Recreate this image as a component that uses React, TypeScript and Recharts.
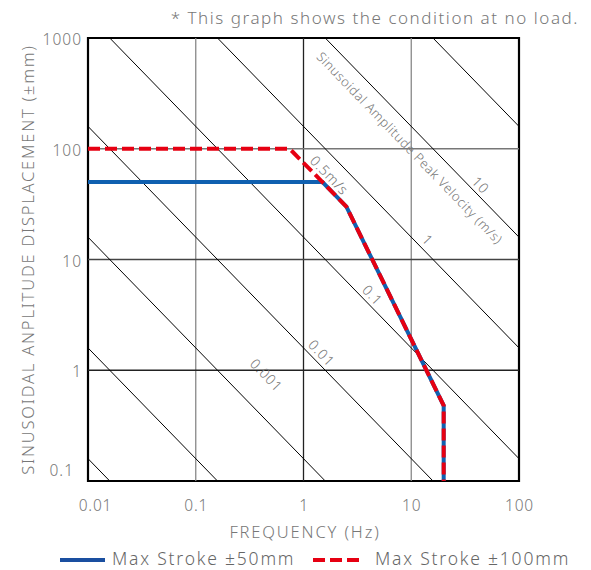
import React from 'react';
import { LineChart, Line, XAxis, YAxis, ReferenceLine, ReferenceArea, ReferenceDot } from 'recharts';

const FREQ_TICKS = [0.01, 0.1, 1, 10, 100];
const AMP_TICKS = [0.1, 1, 10, 100, 1000];
const VELOCITY_LINES = [0.00001, 0.0001, 0.001, 0.01, 0.1, 1, 10, 100];

const STROKE50_FREQ = [0.01, 1.5, 2.5, 20, 20];
const STROKE50_AMP = [50, 50, 30, 0.48, 0.1];
const STROKE100_FREQ = [0.01, 0.74, 0.8, 1.5, 2.5, 20, 20];
const STROKE100_AMP = [100, 100, 93, 50, 30, 0.48, 0.1];

const VEL_LABEL_TEXT = ['0.001', '0.01', '0.1', '0.5m/s', '1', '10', 'Sinusoidal Amplitude Peak Velocity (m/s)'];
const VEL_LABEL_FREQ = [0.456, 1.48, 4.4, 1.75, 14.3, 44.3, 9.7];
const VEL_LABEL_AMP = [0.91, 1.44, 4.8, 58, 15.1, 47.3, 102];

const SERIES_NAMES = ['Max Stroke ±50mm', 'Max Stroke ±100mm'];
const TITLE = '* This graph shows the condition at no load.';
const X_LABEL = 'FREQUENCY (Hz)';
const Y_LABEL = 'SINUSOIDAL ANPLITUDE DISPLACEMENT (±mm)';

const FONT = '"Noto Sans", "Open Sans", sans-serif';
const WEIGHT = 300;
const TEXT_GRAY = '#777';
const BLUE = '#1060b0';
const RED = '#e60012';

const stroke50 = STROKE50_FREQ.map((f, i) => ({ f, a: STROKE50_AMP[i] }));
const stroke100 = STROKE100_FREQ.map((f, i) => ({ f, a: STROKE100_AMP[i] }));

// constant peak-velocity guide line: A[mm] = v[m/s]*1000 / (2*pi*f)
const velSegment = (v: number) => [
  { x: FREQ_TICKS[0], y: (v * 1000) / (2 * Math.PI * FREQ_TICKS[0]) },
  { x: FREQ_TICKS[FREQ_TICKS.length - 1], y: (v * 1000) / (2 * Math.PI * FREQ_TICKS[FREQ_TICKS.length - 1]) },
];

const V_GRID_COLORS: Record<number, string> = { 0.1: '#888', 1: '#222', 10: '#888' };
const H_GRID_COLORS: Record<number, string> = { 1: '#222', 10: '#444', 100: '#777' };

const XTick = (props: any) => {
  const { x, y, payload, index } = props;
  const dx = index === 0 ? 7 : 0;
  return (
    <text x={x + dx + 0.5} y={y + 24} textAnchor="middle" dominantBaseline="central" fill={TEXT_GRAY} fontSize={15.5} fontWeight={WEIGHT} letterSpacing={0.8} fontFamily={FONT}>
      {String(payload.value)}
    </text>
  );
};

const YTick = (props: any) => {
  const { x, y, payload, index } = props;
  const first = index === 0;
  return (
    <text x={x - (first ? 14 : 6)} y={y + (first ? -11 : 1)} textAnchor="end" dominantBaseline="central" fill={TEXT_GRAY} fontSize={15.5} fontWeight={WEIGHT} letterSpacing={1} fontFamily={FONT}>
      {String(payload.value)}
    </text>
  );
};

const rotText = (txt: string, size: number, ls: number) => (p: any) => (
  <text
    x={p.cx}
    y={p.cy}
    transform={`rotate(46 ${p.cx} ${p.cy})`}
    textAnchor="middle"
    dominantBaseline="central"
    fill={TEXT_GRAY}
    fontSize={size}
    fontWeight={WEIGHT}
    letterSpacing={ls}
    fontFamily={FONT}
  >
    {txt}
  </text>
);

export default function App() {
  return (
    <div style={{ position: 'absolute', left: 0, top: 0, width: 591, height: 570, background: '#fff', overflow: 'hidden' }}>
      <div
        style={{
          position: 'absolute', left: 0, top: 6, width: 579, textAlign: 'right',
          fontFamily: FONT, fontWeight: WEIGHT, fontSize: 17, letterSpacing: 1.55, lineHeight: '24px', color: TEXT_GRAY, whiteSpace: 'nowrap',
        }}
      >
        {TITLE}
      </div>
      <LineChart width={591} height={570} margin={{ top: 38, right: 72, bottom: 0, left: 0 }}>
        <XAxis
          type="number"
          dataKey="f"
          scale="log"
          domain={[0.01, 100]}
          ticks={FREQ_TICKS}
          interval={0}
          allowDataOverflow
          height={89}
          axisLine={false}
          tickLine={false}
          tickSize={0}
          tickMargin={0}
          tick={<XTick />}
          label={(p: any) => {
            const vb = p.viewBox;
            return (
              <text x={vb.x + vb.width / 2 + 1.5} y={531} textAnchor="middle" dominantBaseline="central" fill={TEXT_GRAY} fontSize={16.5} fontWeight={WEIGHT} letterSpacing={1.85} fontFamily={FONT}>
                {X_LABEL}
              </text>
            );
          }}
        />
        <YAxis
          type="number"
          dataKey="a"
          scale="log"
          domain={[0.1, 1000]}
          ticks={AMP_TICKS}
          interval={0}
          allowDataOverflow
          width={88}
          axisLine={false}
          tickLine={false}
          tickSize={0}
          tickMargin={0}
          tick={<YTick />}
          label={(p: any) => {
            const vb = p.viewBox;
            const cy = vb.y + vb.height / 2;
            return (
              <text x={27} y={cy} transform={`rotate(-90 27 ${cy})`} textAnchor="middle" dominantBaseline="central" fill={TEXT_GRAY} fontSize={16.5} fontWeight={WEIGHT} letterSpacing={1.8} fontFamily={FONT}>
                {Y_LABEL}
              </text>
            );
          }}
        />
        {FREQ_TICKS.slice(1, -1).map((f) => (
          <ReferenceLine key={'vx' + f} x={f} stroke={V_GRID_COLORS[f]} strokeWidth={1.3} />
        ))}
        {AMP_TICKS.slice(1, -1).map((a) => (
          <ReferenceLine key={'hy' + a} y={a} stroke={H_GRID_COLORS[a]} strokeWidth={1.3} />
        ))}
        {VELOCITY_LINES.map((v) => (
          <ReferenceLine key={'v' + v} segment={velSegment(v)} stroke="#000" strokeWidth={1} ifOverflow="hidden" />
        ))}
        <ReferenceArea x1={0.01} x2={100} y1={0.1} y2={1000} fill="none" fillOpacity={0} stroke="#000" strokeWidth={2.2} />
        <Line
          data={stroke50}
          dataKey="a"
          name={SERIES_NAMES[0]}
          type="linear"
          stroke={BLUE}
          strokeWidth={4}
          dot={false}
          activeDot={false}
          isAnimationActive={false}
        />
        <Line
          data={stroke100}
          dataKey="a"
          name={SERIES_NAMES[1]}
          type="linear"
          stroke={RED}
          strokeWidth={4}
          strokeDasharray="12 5"
          dot={false}
          activeDot={false}
          isAnimationActive={false}
        />
        {VEL_LABEL_TEXT.map((t, i) => (
          <ReferenceDot
            key={'lbl' + i}
            x={VEL_LABEL_FREQ[i]}
            y={VEL_LABEL_AMP[i]}
            r={0}
            ifOverflow="visible"
            shape={rotText(t, i === VEL_LABEL_TEXT.length - 1 ? 13 : 14, i === VEL_LABEL_TEXT.length - 1 ? 0.6 : 0.8)}
          />
        ))}
      </LineChart>
      <div style={{ position: 'absolute', left: 0, top: 546, width: 591, height: 24, fontFamily: FONT, fontWeight: WEIGHT, fontSize: 17.5, letterSpacing: 1.8, color: '#666' }}>
        <svg style={{ position: 'absolute', left: 58, top: 2 }} width={50} height={22}>
          <line x1={2} y1={12} x2={47} y2={12} stroke="#1a4fa0" strokeWidth={4} />
        </svg>
        <div style={{ position: 'absolute', left: 112, top: 1, lineHeight: '23px', whiteSpace: 'nowrap' }}>{SERIES_NAMES[0]}</div>
        <svg style={{ position: 'absolute', left: 311, top: 2 }} width={52} height={22}>
          <line x1={2} y1={12} x2={49} y2={12} stroke={RED} strokeWidth={4} strokeDasharray="12 5" />
        </svg>
        <div style={{ position: 'absolute', left: 375, top: 1, lineHeight: '23px', whiteSpace: 'nowrap' }}>{SERIES_NAMES[1]}</div>
      </div>
    </div>
  );
}
